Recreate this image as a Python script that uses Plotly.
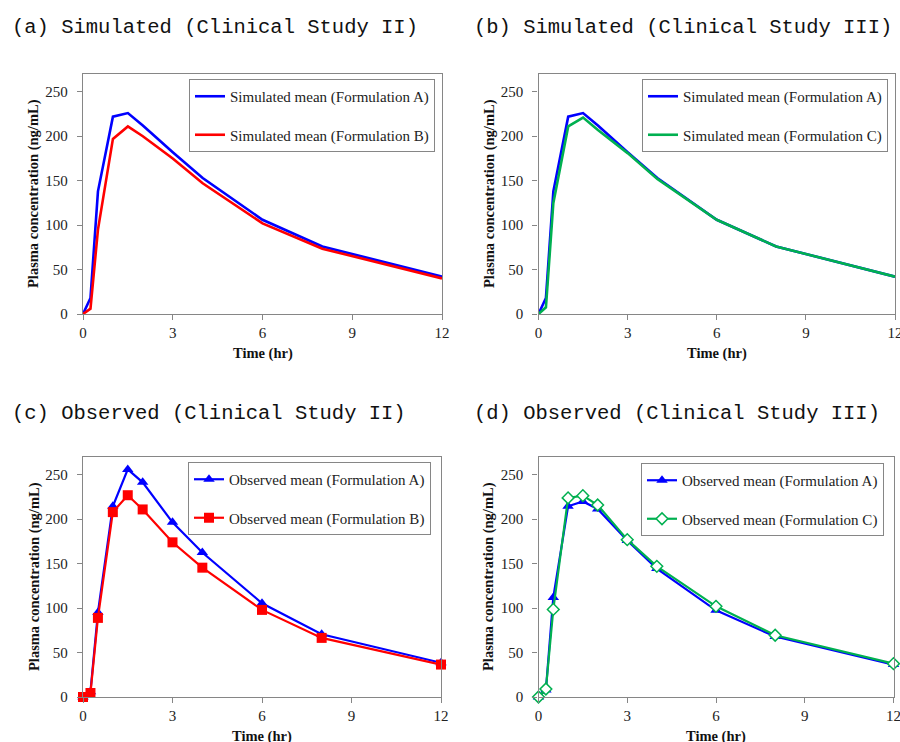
import plotly.graph_objects as go

# ---------------- data ----------------
time_sim = [0, 0.25, 0.5, 1, 1.5, 2, 3, 4, 6, 8, 12]
sim_A = [0, 18, 138, 222, 226, 212, 182, 153, 106, 76, 42]
sim_B = [0, 6, 95, 197, 211, 200, 175, 147, 102, 73.5, 40]
sim_C = [0, 7.5, 125, 211, 221, 207, 181, 152, 106, 76, 42]

time_obs = [0, 0.25, 0.5, 1, 1.5, 2, 3, 4, 6, 8, 12]
obs_A_II = [0, 6, 95, 214.5, 256, 241.5, 196.5, 162.5, 105.5, 70.5, 38.5]
obs_B_II = [0, 4.5, 89, 208, 227, 211, 174, 145.5, 98, 66.5, 36.5]
obs_A_III = [0, 8, 112, 214.5, 220, 211.5, 176, 144.5, 97.5, 68, 36.5]
obs_C_III = [0, 9, 98.5, 224, 226.5, 216, 177, 147, 102, 69.5, 37.5]

x_ticks = [0, 3, 6, 9, 12]
y_ticks = [0, 50, 100, 150, 200, 250]

panel_titles = ["(a) Simulated (Clinical Study II)",
                "(b) Simulated (Clinical Study III)",
                "(c) Observed (Clinical Study II)",
                "(d) Observed (Clinical Study III)"]
x_title = "Time (hr)"
y_title = "Plasma concentration (ng/mL)"

BLUE = "#0000FF"
RED = "#FF0000"
GREEN = "#00B050"
GREY = "#868686"
SERIF = "Liberation Serif, Times New Roman, serif"
MONO = "Liberation Mono, monospace"

W, H = 900, 742

def px_x(p):
    return p / W

def px_y(p):
    return 1 - p / H

fig = go.Figure()

# domains (pixel measured)
dom = {
    1: dict(x=(83, 442), y=(74, 314)),
    2: dict(x=(538.5, 895), y=(74, 314)),
    3: dict(x=(83, 441), y=(457, 697)),
    4: dict(x=(538.5, 893.5), y=(457, 697)),
}

def add_line(i, x, y, name, color, width, legend, marker=None):
    kw = dict(x=x, y=y, name=name, mode="lines", legendgroup=name,
              line=dict(color=color, width=width),
              xaxis="x" if i == 1 else f"x{i}",
              yaxis="y" if i == 1 else f"y{i}",
              legend=legend, cliponaxis=False)
    if marker is not None:
        kw["mode"] = "lines+markers"
        kw["marker"] = marker
    fig.add_trace(go.Scatter(**kw))

add_line(1, time_sim, sim_A, "Simulated mean (Formulation A)", BLUE, 2.6, "legend")
add_line(1, time_sim, sim_B, "Simulated mean (Formulation B)", RED, 2.6, "legend")
add_line(2, time_sim, sim_A, "Simulated mean (Formulation A)", BLUE, 2.6, "legend2")
add_line(2, time_sim, sim_C, "Simulated mean (Formulation C)", GREEN, 2.6, "legend2")
add_line(3, time_obs, obs_A_II, "Observed mean (Formulation A)", BLUE, 2.2, "legend3",
         marker=dict(symbol="triangle-up", size=10, color=BLUE))
add_line(3, time_obs, obs_B_II, "Observed mean (Formulation B)", RED, 2.2, "legend3",
         marker=dict(symbol="square", size=10, color=RED))
add_line(4, time_obs, obs_A_III, "Observed mean (Formulation A)", BLUE, 2.2, "legend4",
         marker=dict(symbol="triangle-up", size=10, color=BLUE))
add_line(4, time_obs, obs_C_III, "Observed mean (Formulation C)", GREEN, 2.2, "legend4",
         marker=dict(symbol="diamond", size=9, color="white",
                     line=dict(color=GREEN, width=1.5)))

layout = dict(
    width=W, height=H,
    margin=dict(l=0, r=0, t=0, b=0),
    paper_bgcolor="white", plot_bgcolor="white",
    font=dict(family=SERIF, size=15, color="#222222"),
    showlegend=True,
)

for i, d in dom.items():
    xs = "xaxis" if i == 1 else f"xaxis{i}"
    ys = "yaxis" if i == 1 else f"yaxis{i}"
    xa = "x" if i == 1 else f"x{i}"
    ya = "y" if i == 1 else f"y{i}"
    layout[xs] = dict(domain=[px_x(d["x"][0]), px_x(d["x"][1])], anchor=ya,
                      range=[0, 12], tickvals=x_ticks, ticks="outside", ticklen=5,
                      tickcolor=GREY, showline=True, linecolor=GREY, linewidth=1.3,
                      mirror=True, showgrid=False, zeroline=False, automargin=False,
                      ticklabeloverflow="allow",
                      tickfont=dict(family=SERIF, size=15, color="#222222"))
    layout[ys] = dict(domain=[px_y(d["y"][1]), px_y(d["y"][0])], anchor=xa,
                      range=[0, 270], tickvals=y_ticks, ticks="outside", ticklen=5,
                      tickcolor=GREY, showline=True, linecolor=GREY, linewidth=1.3,
                      mirror=True, showgrid=False, zeroline=False, automargin=False,
                      ticklabelstandoff=6, ticklabeloverflow="allow",
                      tickfont=dict(family=SERIF, size=15, color="#222222"))

leg_pos = {"legend": (435, 79), "legend2": (888, 79),
           "legend3": (431, 462), "legend4": (884, 463)}
for k, (xr, yt) in leg_pos.items():
    layout[k] = dict(x=px_x(xr), y=px_y(yt), xanchor="right", yanchor="top",
                     xref="paper", yref="paper",
                     bgcolor="white", bordercolor=GREY, borderwidth=1,
                     font=dict(family=SERIF, size=15, color="#222222"),
                     tracegroupgap=16, itemwidth=30)

fig.update_layout(**layout)

ann = []
title_pos = [(10, 27), (472, 27), (10, 413), (472, 413)]
for t, (x, y) in zip(panel_titles, title_pos):
    ann.append(dict(text=t, x=px_x(x), y=px_y(y), xref="paper", yref="paper",
                    xanchor="left", yanchor="middle", showarrow=False,
                    font=dict(family=MONO, size=20.5, color="#111111")))

xt_pos = [(262.5, 353), (716.7, 353), (262, 736), (716, 736)]
for x, y in xt_pos:
    ann.append(dict(text="<b>" + x_title + "</b>", x=px_x(x), y=px_y(y),
                    xref="paper", yref="paper", xanchor="center", yanchor="middle",
                    showarrow=False, font=dict(family=SERIF, size=14.5, color="#111111")))

yt_pos = [(33, 194), (489, 194), (34, 577), (488, 577)]
for x, y in yt_pos:
    ann.append(dict(text="<b>" + y_title + "</b>", x=px_x(x), y=px_y(y),
                    xref="paper", yref="paper", xanchor="center", yanchor="middle",
                    textangle=-90, showarrow=False,
                    font=dict(family=SERIF, size=14.5, color="#111111")))

fig.update_layout(annotations=ann)

fig.write_html("out.html",
               config={"displayModeBar": False},
               post_script="document.body.style.margin='0px';"
                           "document.body.style.overflow='hidden';")
